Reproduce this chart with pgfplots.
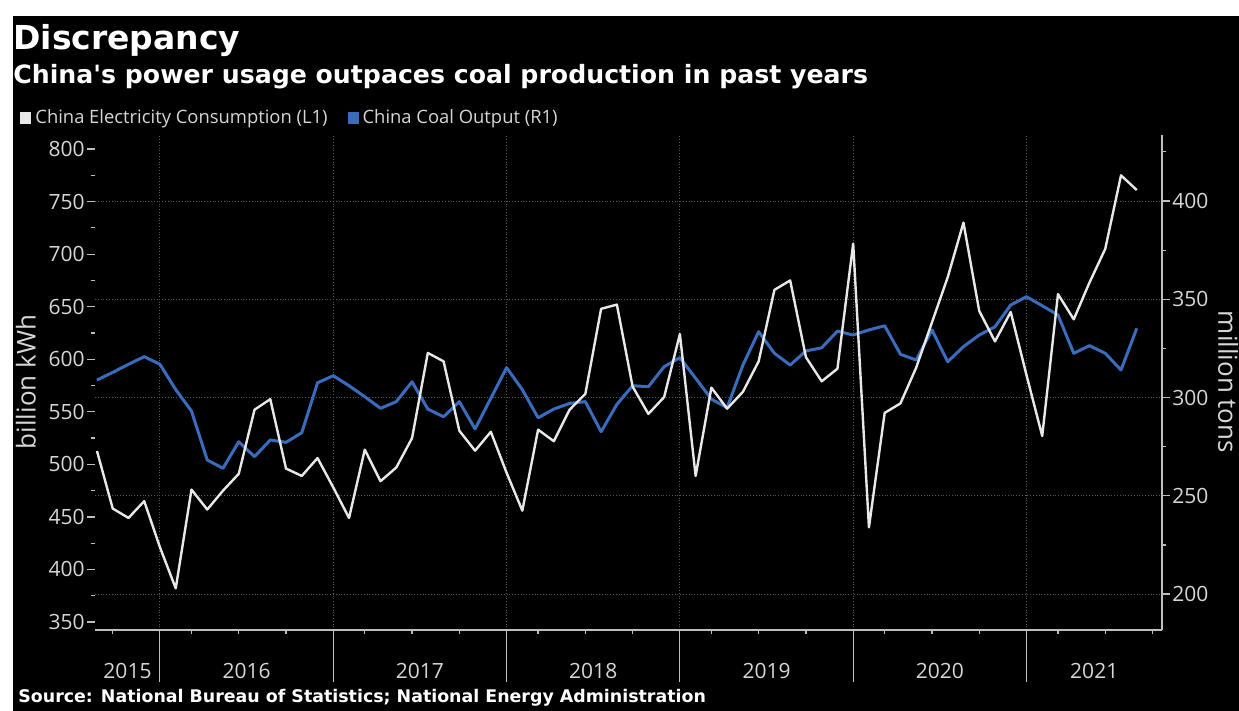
\documentclass[border=0pt]{standalone}
\usepackage{fontspec}
\setmainfont{Open Sans}
\newfontfamily\headfont{DejaVu Sans}
\usepackage{pgfplots}
\usepackage{pgfplotstable}
\pgfplotsset{compat=1.18}

\definecolor{elec}{RGB}{232,232,232}
\definecolor{coal}{RGB}{58,108,190}
\definecolor{txt}{RGB}{214,214,214}
\definecolor{axisc}{RGB}{190,190,190}
\definecolor{gridc}{RGB}{85,85,85}

\newcommand\ticksize{\fontsize{10.5}{12}\selectfont}
\newcommand\labsize{\fontsize{13}{15}\selectfont}
\newcommand\legsize{\fontsize{9.2}{11}\selectfont}

% monthly data, Jan folded into Feb: x = year + (month-1)/11
\pgfplotstableread{
x          elec   coal
2015.6364  512.7  308.9
2015.7273  458    312.8
2015.8182  449    316.9
2015.9091  465    320.8
2016.0000  421    316.9
2016.0909  382    304
2016.1818  476    293.1
2016.2727  457    268.2
2016.3636  475    264
2016.4545  491    277.5
2016.5455  552    269.9
2016.6364  562    278.4
2016.7273  496    277.2
2016.8182  489    282.1
2016.9091  506    307.5
2017.0000  478    311.1
2017.0909  449    306
2017.1818  514    300.4
2017.2727  484    294.5
2017.3636  497    297.9
2017.4545  525    308
2017.5455  606    294.1
2017.6364  598    290.2
2017.7273  532    297.9
2017.8182  513    284
2017.9091  531    299.6
2018.0000  492    315.2
2018.0909  456    304
2018.1818  533    289.7
2018.2727  522    294.1
2018.3636  552    297
2018.4545  567    297.9
2018.5455  648    282.6
2018.6364  652    296.5
2018.7273  574    306
2018.8182  548    305.5
2018.9091  564    315.7
2019.0000  624    320.3
2019.0909  489    309.8
2019.1818  573    299.2
2019.2727  553    294.8
2019.3636  569    316.5
2019.4545  598    333.5
2019.5455  666    322.5
2019.6364  675    316.5
2019.7273  602    323.7
2019.8182  579    325.3
2019.9091  591    333.8
2020.0000  710    331.8
2020.0909  440    334.4
2020.1818  549    336.5
2020.2727  558    322
2020.3636  592    319.1
2020.4545  635    334.4
2020.5455  678    318.2
2020.6364  730    325.9
2020.7273  646    331.8
2020.8182  617    336
2020.9091  645    347.1
2021.0000  585    351.3
2021.0909  527    346.7
2021.1818  662    342
2021.2727  638    322.5
2021.3636  673    326.4
2021.4545  705    322.5
2021.5455  775    314
2021.6364  761    335.2
}\datatable

\pgfplotsset{
  base/.style={
    at={(47.5pt,40.5pt)}, anchor=south west,
    scale only axis, width=533.5pt, height=247.5pt,
    xmin=2015.625, xmax=2021.782,
    tick align=outside, minor tick length=2pt,
    /pgf/number format/assume math mode=true,
  },
  gridstyle/.style={major grid style={densely dotted, gridc, line width=0.5pt}},
}

\begin{document}
\begin{tikzpicture}
\fill[white] (0,0) rectangle (619.5pt,355.5pt);
\fill[black] (6.5pt,0) rectangle (619.5pt,347.5pt);
\useasboundingbox (0,0) rectangle (619.5pt,355.5pt);

\node[anchor=base west, inner sep=0pt, text=white, font=\headfont\bfseries\fontsize{16.5}{18}\selectfont] at (6.5pt,330.5pt) {Discrepancy};
\node[anchor=base west, inner sep=0pt, text=white, font=\headfont\bfseries\fontsize{12.6}{14}\selectfont] at (6.5pt,313.5pt) {China's power usage outpaces coal production in past years};
\node[anchor=base west, inner sep=0pt, text=white, font=\headfont\bfseries\fontsize{8.7}{10}\selectfont] at (9pt,4pt) {Source: National Bureau of Statistics; National Energy Administration};

% x axis: year separators, quarter ticks, vertical grid
\begin{axis}[base, gridstyle,
  ymin=0, ymax=1, axis y line=none, axis x line*=bottom,
  x axis line style={draw=axisc, line width=0.8pt},
  xtick={2016,2017,2018,2019,2020,2021}, xticklabel=\empty,
  major tick length=26pt, xmajorgrids,
  minor xtick={2015.7273,2016.1818,2016.4545,2016.7273,2017.1818,2017.4545,2017.7273,2018.1818,2018.4545,2018.7273,2019.1818,2019.4545,2019.7273,2020.1818,2020.4545,2020.7273,2021.1818,2021.4545,2021.7273},
  major x tick style={draw=axisc, line width=0.5pt},
  minor x tick style={draw=axisc, line width=0.6pt},
]
\end{axis}

% right axis: coal output
\begin{axis}[base, gridstyle,
  ymin=181.7, ymax=433.6,
  axis x line=none, axis y line*=right,
  y axis line style={draw=axisc, line width=0.8pt},
  ytick={200,250,...,400}, minor ytick={225,275,...,425},
  major tick length=4pt, ymajorgrids,
  tick style={draw=axisc, line width=0.6pt},
  yticklabel style={font=\ticksize, text=txt, inner sep=1pt},
  ylabel={million tons},
  every axis y label/.style={at={(axis description cs:1.0619,0.501)}, rotate=-90, anchor=center, font=\labsize, text=txt},
]
\addplot[color=coal, line width=1.5pt, line join=round] table[x=x, y=coal] {\datatable};
\end{axis}

% left axis: electricity consumption
\begin{axis}[base,
  ymin=342.4, ymax=813.4,
  axis x line*=bottom, axis y line*=left,
  x axis line style={draw=none}, y axis line style={draw=none},
  xtick={2015.8125,2016.5,2017.5,2018.5,2019.5,2020.5,2021.391},
  xticklabels={2015,2016,2017,2018,2019,2020,2021},
  major x tick style={draw=none},
  xticklabel style={font=\ticksize, text=txt, yshift=-9pt},
  ytick={350,400,...,800}, minor ytick={375,425,...,775},
  major tick length=4pt,
  y tick style={draw=axisc, line width=0.6pt},
  yticklabel style={font=\ticksize, text=txt, inner sep=1pt},
  ylabel={billion kWh},
  every axis y label/.style={at={(axis description cs:-0.0647,0.501)}, rotate=90, anchor=center, font=\labsize, text=txt},
  legend style={at={(axis description cs:-0.0703,1.0343)}, anchor=west, draw=none, fill=none, inner sep=0pt,
    font=\legsize, text=txt, legend columns=2,
    /tikz/every even column/.append style={column sep=8pt}},
  legend image code/.code={\fill[#1, draw=none] (0pt,-3pt) rectangle (5.5pt,3pt);},
]
\addplot[color=elec, line width=1.2pt, line join=round] table[x=x, y=elec] {\datatable};
\addlegendentry{China Electricity Consumption (L1)}
\addlegendimage{color=coal}
\addlegendentry{China Coal Output (R1)}
\end{axis}
\end{tikzpicture}
\end{document}
